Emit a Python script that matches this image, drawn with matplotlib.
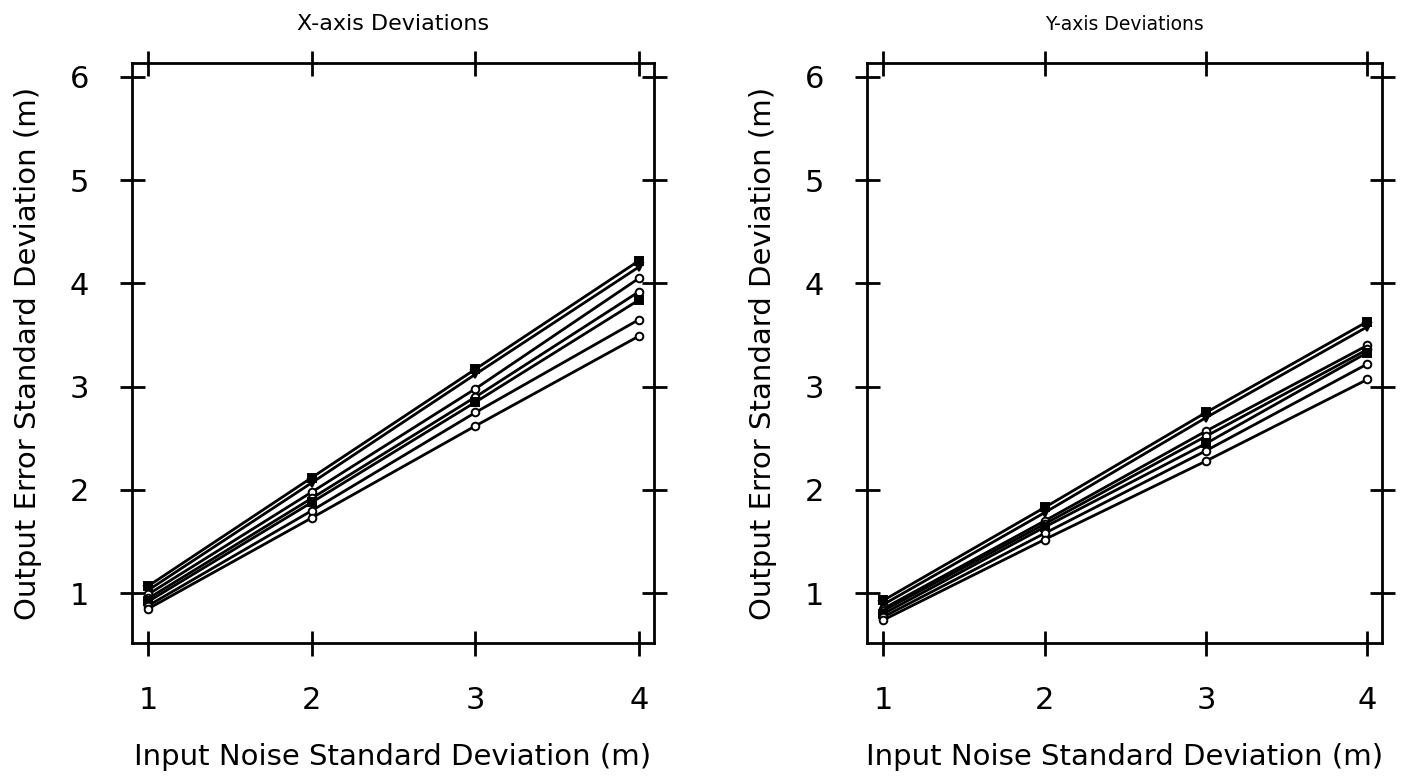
#!/usr/bin/env python3
"""Output error std vs input noise std, X and Y axis deviations."""

import matplotlib

matplotlib.use("Agg")
import matplotlib.pyplot as plt

NOISE_STD = [1, 2, 3, 4]

# X-axis deviations, one list per curve (top to bottom)
X_DEV = [
    [1.07, 2.12, 3.17, 4.22],
    [1.03, 2.07, 3.12, 4.16],
    [0.99, 1.98, 2.98, 4.05],
    [0.95, 1.92, 2.90, 3.92],
    [0.92, 1.88, 2.85, 3.84],
    [0.88, 1.80, 2.75, 3.65],
    [0.85, 1.73, 2.62, 3.49],
]

# Y-axis deviations
Y_DEV = [
    [0.93, 1.83, 2.75, 3.63],
    [0.89, 1.78, 2.70, 3.58],
    [0.85, 1.70, 2.57, 3.40],
    [0.83, 1.67, 2.52, 3.36],
    [0.80, 1.64, 2.45, 3.33],
    [0.77, 1.58, 2.38, 3.22],
    [0.74, 1.52, 2.28, 3.07],
]

MARKERS = ["s", "v", "o", "o", "s", "o", "o"]
FILLED = [True, True, False, False, True, False, False]

Y_TICKS = [1, 2, 3, 4, 5, 6]
XLABEL = "Input Noise Standard Deviation (m)"
YLABEL = "Output Error Standard Deviation (m)"

FONT = ["Liberation Sans Narrow", "DejaVu Sans"]
FS_TICK = 22
FS_LABEL = 21
LW = 2.0


def draw_panel(ax, curves, title, title_size):
    for vals, mk, filled in zip(curves, MARKERS, FILLED):
        ax.plot(
            NOISE_STD,
            vals,
            color="black",
            linewidth=LW,
            marker=mk,
            markersize=5.5,
            markerfacecolor="black" if filled else "white",
            markeredgecolor="black",
            markeredgewidth=1.4,
        )
    ax.set_xlim(0.90, 4.09)
    ax.set_ylim(0.52, 6.13)
    ax.set_xticks(NOISE_STD)
    ax.set_yticks(Y_TICKS)
    ax.tick_params(
        direction="inout",
        length=18,
        width=LW,
        top=True,
        right=True,
        labelsize=FS_TICK,
    )
    ax.tick_params(axis="x", pad=22)
    ax.tick_params(axis="y", pad=22)
    for lab in ax.get_xticklabels() + ax.get_yticklabels():
        lab.set_family(FONT)
    for sp in ax.spines.values():
        sp.set_linewidth(LW)
    ax.set_xlabel(XLABEL, fontsize=FS_LABEL, family=FONT, labelpad=20)
    ax.set_ylabel(YLABEL, fontsize=FS_LABEL, family=FONT, labelpad=20)
    ax.set_title(title, fontsize=title_size, family=FONT, pad=24)


fig = plt.figure(figsize=(14.03, 7.82), dpi=100)
ax1 = fig.add_axes([0.094, 0.178, 0.372, 0.741])
ax2 = fig.add_axes([0.618, 0.178, 0.367, 0.741])
draw_panel(ax1, X_DEV, "X-axis Deviations", 16)
draw_panel(ax2, Y_DEV, "Y-axis Deviations", 13.5)

fig.savefig("out.png", dpi=100)
